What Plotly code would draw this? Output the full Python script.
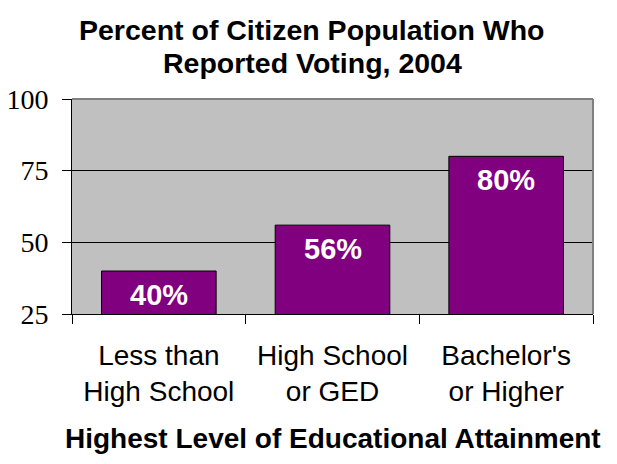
import plotly.graph_objects as go

categories = ["Less than<br>High School", "High School<br>or GED", "Bachelor's<br>or Higher"]
values = [40, 56, 80]
labels = ["40%", "56%", "80%"]
y_ticks = [25, 50, 75, 100]
title_lines = ["Percent of Citizen Population Who", "Reported Voting, 2004"]
x_title = "Highest Level of Educational Attainment"

fig = go.Figure()
fig.add_trace(go.Bar(
    x=categories, y=values, width=0.66,
    marker=dict(color="#800080", line=dict(color="black", width=1)),
    hoverinfo="skip",
))

ann = []
for c, v, t in zip(categories, values, labels):
    ann.append(dict(x=c, y=v, xref="x", yref="y", text=t, showarrow=False,
                    yanchor="middle", yshift=-24,
                    font=dict(family="Liberation Sans, Arial", size=29, color="white", weight="bold")))
for i, line in enumerate(title_lines):
    ann.append(dict(x=0.461, y=1, xref="paper", yref="paper", text="<b>" + line + "</b>",
                    showarrow=False, yanchor="middle", yshift=[69, 36][i],
                    font=dict(family="Liberation Sans, Arial", size=28.5, color="black")))
ann.append(dict(x=0.5, y=0, xref="paper", yref="paper", text="<b>" + x_title + "</b>",
                showarrow=False, yanchor="middle", yshift=-124,
                font=dict(family="Liberation Sans, Arial", size=28, color="black")))

fig.update_layout(
    width=617, height=464,
    margin=dict(l=72, r=24, t=99, b=150, pad=0),
    paper_bgcolor="white", plot_bgcolor="#C0C0C0",
    showlegend=False, annotations=ann,
    shapes=[
        dict(type="line", xref="paper", yref="paper", x0=0, x1=1, y0=1, y1=1,
             line=dict(color="#808080", width=2)),
        dict(type="line", xref="paper", yref="paper", x0=1, x1=1, y0=0, y1=1,
             line=dict(color="#808080", width=2)),
    ],
)
fig.update_xaxes(
    type="category", tickson="boundaries", ticks="outside", ticklen=9,
    tickcolor="black", tickwidth=1, showline=True, linecolor="black", linewidth=1,
    showgrid=False, ticklabelstandoff=16, automargin=False,
    tickfont=dict(family="Liberation Sans, Arial", size=28, color="black"),
)
fig.update_yaxes(
    range=[25, 100], tickvals=y_ticks, ticks="outside", ticklen=9,
    tickcolor="black", tickwidth=1, showline=True, linecolor="black", linewidth=1,
    showgrid=True, gridcolor="black", gridwidth=1, zeroline=False,
    ticklabelstandoff=8, automargin=False,
    tickfont=dict(family="Liberation Serif, Times New Roman", size=28, color="black"),
)

fig.write_html("out.html")
